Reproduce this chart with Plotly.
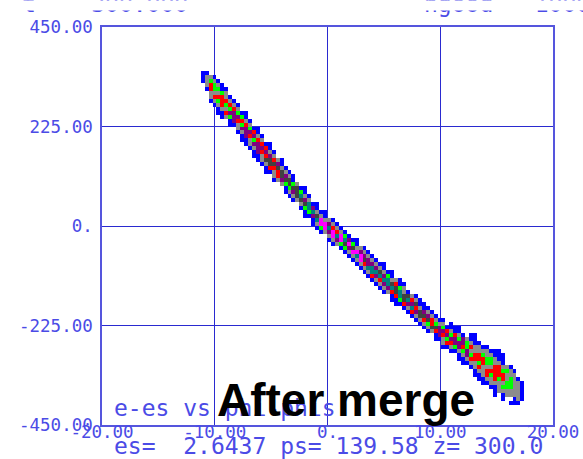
import numpy as np
import plotly.graph_objects as go

# ---- data -------------------------------------------------------------
# Band of particles in (phi-phis, e-es): centre line and vertical half-width
phi_knots = [-10.9, -10.5, -9.4, -8.2, -6.9, -5.1, -3.4, -1.6, -0.7, 1.95,
             4.2, 6.4, 9.0, 10.6, 11.7, 13.5, 15.3, 17.0, 17.4]
e_centre = [335, 317, 287, 251, 206, 147, 95, 43, 11, -45,
            -102, -152, -215, -251, -267, -305, -339, -371, -380]
e_halfwidth = [13, 34, 38, 35, 38, 35, 30, 27, 27, 27,
               32, 31, 28, 31, 35, 46, 50, 32, 15]
# highest density level reached in the core of the band
core_level = [1, 4, 4, 5, 5, 6, 6, 7, 8, 8, 7, 7, 6, 5, 5, 4, 4, 2, 1]

# colour for each density level 1..10
level_colours = ["#0000ff", "#8c8c8c", "#00ff00", "#ff0000", "#800080",
                 "#404040", "#008080", "#ff00ff", "#ffff00", "#00ffff"]
# small fixed pattern that breaks up the contour rings
texture = [0, 1, -1, 2, 0, -2, 1, -1, 0, 2, -1, 1, -2, 0, 1, 0, -1, 2,
           -1, 0, 1, -2, 0]

x_ticks = [-20, -10, 0, 10, 20]
x_ticktext = ["-20.00", "-10.00", "0.", "10.00", "20.00"]
y_ticks = [-450, -225, 0, 225, 450]
y_ticktext = ["-450.00", "-225.00", "0.", "225.00", "450.00"]

title_left = "t =  300.000"
title_right = "ngood = 1000"
plot_label = "e-es vs phi-phis"
footer = "es=  2.6437 ps= 139.58 z= 300.0"
stamp = "After merge"

# ---- histogram grid -----------------------------------------------------
dx, dy = 0.35, 9.0
xc = np.arange(-20 + dx / 2, 20, dx)
yc = np.arange(-450 + dy / 2, 450, dy)
z = np.full((len(yc), len(xc)), np.nan)
lo, hi = phi_knots[0] - dx / 2, phi_knots[-1] + dx / 2
for i, x in enumerate(xc):
    if x < lo or x > hi:
        continue
    c = np.interp(x, phi_knots, e_centre)
    hw = np.interp(x, phi_knots, e_halfwidth)
    peak = np.interp(x, phi_knots, core_level)
    for j, y in enumerate(yc):
        d = abs(y - c) / hw
        t = texture[(i * 7 + j * 11) % len(texture)]
        if d > 1.0 + 0.08 * t:
            continue
        if d > 0.7 + 0.05 * t or peak < 2:
            lvl = 1
        elif d > 0.52:
            lvl = 2
        else:
            u = d / 0.52
            lvl = int(round(2 + (peak - 2) * (1 - u * u))) + t
            lvl = max(2, min(lvl, int(round(peak))))
        z[j, i] = lvl

n = len(level_colours)
colorscale = []
for k, col in enumerate(level_colours):
    colorscale.append([k / n, col])
    colorscale.append([(k + 1) / n, col])

mono = "DejaVu Sans Mono"
txt_col = "#4b4be6"

fig = go.Figure(go.Heatmap(
    x=xc, y=yc, z=z, colorscale=colorscale, zmin=0.5, zmax=n + 0.5,
    showscale=False, hoverinfo="skip", zsmooth=False,
))

W, H = 583, 459
ml, mr, mt, mb = 102, 30, 27, 34
pw, ph = W - ml - mr, H - mt - mb


def px_x(p):
    return (p - ml) / pw


def px_y(p):
    return (H - mb - p) / ph


def nb(s):
    return s.replace(" ", "\u00a0")


fig.update_layout(
    width=W, height=H,
    margin=dict(l=ml, r=mr, t=mt, b=mb, pad=0, autoexpand=False),
    paper_bgcolor="white", plot_bgcolor="white",
    showlegend=False,
    xaxis=dict(
        range=[-20, 20], tickvals=x_ticks, ticktext=x_ticktext,
        showgrid=True, gridcolor="#2a2ad0", gridwidth=1.2,
        showline=True, mirror=True, linecolor="#5555dd", linewidth=1.5,
        zeroline=False, ticks="", ticklabelstandoff=-10, automargin=False,
        tickfont=dict(family=mono, size=17.5, color=txt_col),
    ),
    yaxis=dict(
        range=[-450, 450], tickvals=y_ticks, ticktext=y_ticktext,
        showgrid=True, gridcolor="#2a2ad0", gridwidth=1.2,
        showline=True, mirror=True, linecolor="#5555dd", linewidth=1.5,
        zeroline=False, ticks="", ticklabelstandoff=4, automargin=False,
        tickfont=dict(family=mono, size=17.5, color=txt_col),
    ),
)

ann = dict(xref="paper", yref="paper", showarrow=False, xanchor="left",
           yanchor="middle")
fig.add_annotation(text=nb(title_left), x=px_x(19.5), y=px_y(4.5),
                   font=dict(family=mono, size=23, color=txt_col), **ann)
fig.add_annotation(text=nb(title_right), x=px_x(422), y=px_y(4.5),
                   font=dict(family=mono, size=23, color=txt_col), **ann)
# the page header is trimmed: only the foot of its line shows
fig.add_annotation(text="\u00a0", x=px_x(0), y=px_y(0), xref="paper",
                   yref="paper", xanchor="left", yanchor="top",
                   showarrow=False, width=W, height=9, borderpad=0,
                   bgcolor="white", font=dict(size=6))
fig.add_annotation(text=nb(plot_label), x=px_x(111.5), y=px_y(408),
                   font=dict(family=mono, size=23, color=txt_col), **ann)
fig.add_annotation(text=nb(footer), x=px_x(111.5), y=px_y(446),
                   font=dict(family=mono, size=23, color=txt_col), **ann)
fig.add_annotation(text="<b>" + stamp + "</b>", x=px_x(215), y=px_y(399.5),
                   font=dict(family="Liberation Sans", size=46, color="black"), **ann)

fig.write_html("out.html")
